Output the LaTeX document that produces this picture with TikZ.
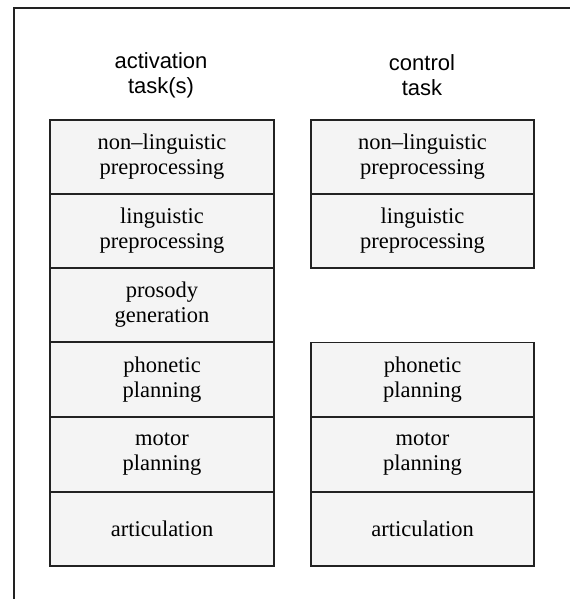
\documentclass[tikz,border=0pt]{standalone}
\usepackage{fontspec}
\setmainfont{Liberation Serif}
\newfontfamily\hdrfont{Liberation Sans}
\definecolor{boxfill}{HTML}{F4F4F4}
\definecolor{lincol}{HTML}{222222}
\begin{document}
\begin{tikzpicture}[x=1pt,y=-1pt,
  stage/.style={draw=lincol, line width=1.2pt, fill=boxfill, minimum height=74pt, inner sep=0pt, align=center, font=\fontsize{22.5}{25}\selectfont},
  lstage/.style={stage, minimum width=224pt},
  rstage/.style={stage, minimum width=223pt},
  header/.style={align=center, inner sep=0pt, font=\hdrfont\fontsize{22}{25}\selectfont}]
\useasboundingbox (0,0) rectangle (570,599);
\draw[lincol, line width=1.3pt] (14,599) -- (14,8) -- (570,8);
\node[header] (hA) at (161,75) {activation\\task(s)};
\node[header] (hC) at (422,75) {control\\task};
\node[lstage] (a1) at (162,157) {non–linguistic\\preprocessing};
\node[lstage] (a2) at (162,231) {linguistic\\preprocessing};
\node[lstage] (a3) at (162,305) {prosody\\generation};
\node[lstage] (a4) at (162,379.5) {phonetic\\planning};
\node[lstage] (a5) at (162,454.5) {motor\\planning};
\node[lstage] (a6) at (162,529) {articulation};
\node[rstage] (c1) at (422.5,157) {non–linguistic\\preprocessing};
\node[rstage] (c2) at (422.5,231) {linguistic\\preprocessing};
\node[rstage] (c4) at (422.5,379.5) {phonetic\\planning};
\node[rstage] (c5) at (422.5,454.5) {motor\\planning};
\node[rstage] (c6) at (422.5,529) {articulation};
\end{tikzpicture}
\end{document}
